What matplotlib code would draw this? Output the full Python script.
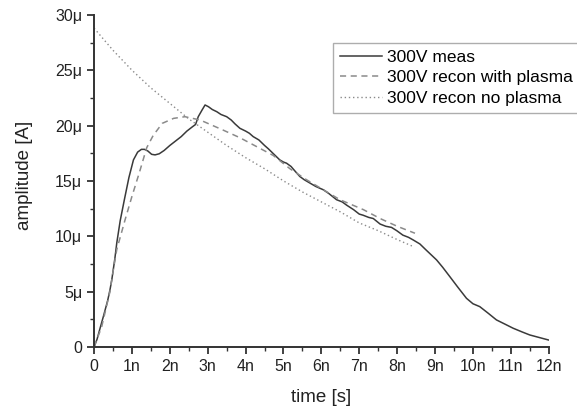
import matplotlib
matplotlib.use("Agg")
import matplotlib.pyplot as plt
from matplotlib.ticker import MultipleLocator

# ── Data (time in ns, current in µA) ───────────────────────────────────────────
meas_t = [0.0, 0.08, 0.16, 0.25, 0.36, 0.42, 0.47, 0.55, 0.6, 0.69, 0.8, 0.92,
          1.04, 1.15, 1.25, 1.33, 1.42, 1.52, 1.61, 1.72, 1.85, 2.0, 2.15,
          2.3, 2.45, 2.6, 2.68, 2.75, 2.85, 2.93, 3.02, 3.12, 3.24, 3.35, 3.5,
          3.62, 3.72, 3.85, 4.0, 4.1, 4.2, 4.35, 4.5, 4.6, 4.75, 4.9, 5.0,
          5.08, 5.2, 5.3, 5.43, 5.55, 5.7, 5.85, 6.05, 6.2, 6.4, 6.55, 6.67,
          6.85, 7.0, 7.1, 7.25, 7.37, 7.55, 7.7, 7.85, 7.99, 8.15, 8.3, 8.43,
          8.6, 8.75, 9.04, 9.2, 9.39, 9.6, 9.83, 10.0, 10.18, 10.4, 10.62,
          10.85, 11.06, 11.3, 11.5, 11.75, 11.99]
meas_i = [0.0, 0.7, 1.7, 2.8, 4.2, 5.15, 6.1, 8.0, 9.4, 11.4, 13.3, 15.3,
          16.9, 17.6, 17.85, 17.85, 17.7, 17.4, 17.35, 17.45, 17.75, 18.2,
          18.6, 19.0, 19.5, 19.9, 20.1, 20.8, 21.4, 21.86, 21.7, 21.45, 21.25,
          21.0, 20.8, 20.5, 20.15, 19.75, 19.5, 19.3, 19.0, 18.7, 18.2, 17.9,
          17.4, 16.9, 16.7, 16.6, 16.3, 15.9, 15.4, 15.1, 14.8, 14.5, 14.2,
          13.85, 13.3, 13.1, 12.8, 12.4, 12.0, 11.9, 11.7, 11.6, 11.1, 10.9,
          10.8, 10.5, 10.1, 9.9, 9.65, 9.3, 8.8, 7.86, 7.2, 6.35, 5.4, 4.39,
          3.9, 3.64, 3.05, 2.44, 2.05, 1.69, 1.35, 1.08, 0.85, 0.63]

plasma_t = [0.0, 0.2, 0.42, 0.51, 0.6, 0.82, 1.0, 1.2, 1.39, 1.56, 1.8, 2.1,
            2.4, 2.8, 3.4, 3.85, 4.29, 4.73, 5.17, 5.61, 6.05, 6.49, 7.11,
            7.55, 8.0, 8.47]
plasma_i = [0.0, 1.8, 5.0, 7.0, 8.8, 11.5, 13.6, 15.8, 18.0, 19.1, 20.2,
            20.65, 20.8, 20.5, 19.6, 18.9, 18.1, 17.3, 16.1, 15.1, 14.2, 13.3,
            12.4, 11.6, 10.9, 10.27]

noplasma_t = [0.0, 0.5, 1.0, 1.5, 2.0, 2.5, 3.0, 3.5, 4.0, 4.5, 5.0, 5.5,
              6.0, 6.5, 7.0, 7.5, 8.0, 8.43]
noplasma_i = [28.8, 26.8, 25.0, 23.4, 22.0, 20.6, 19.4, 18.2, 17.1, 16.1,
              15.0, 14.0, 13.1, 12.2, 11.2, 10.5, 9.7, 9.06]

x_ticks = list(range(0, 13))
x_labels = ['0'] + [f'{n}n' for n in range(1, 13)]
y_ticks = [0, 5, 10, 15, 20, 25, 30]
y_labels = ['0'] + [f'{v}\u03bc' for v in y_ticks[1:]]

labels = ['300V meas', '300V recon with plasma', '300V recon no plasma']

# ── Plot ───────────────────────────────────────────────────────────────────────
plt.rcParams['font.family'] = ['Liberation Sans', 'DejaVu Sans']

AX_CLR = '#333333'
TXT    = '#222222'

fig = plt.figure(figsize=(5.77, 4.13), dpi=100)
ax = fig.add_axes([0.163, 0.160, 0.788, 0.804])

ax.plot(meas_t, meas_i, color='#3a3a3a', linewidth=1.1, label=labels[0])
ax.plot(plasma_t, plasma_i, color='#8a8a8a', linewidth=1.1,
        linestyle=(0, (4, 3)), label=labels[1])
ax.plot(noplasma_t, noplasma_i, color='#8a8a8a', linewidth=1.0,
        linestyle=(0, (1, 2)), label=labels[2])

ax.set_xlim(0, 12)
ax.set_ylim(0, 30)
ax.set_xticks(x_ticks)
ax.set_xticklabels(x_labels)
ax.set_yticks(y_ticks)
ax.set_yticklabels(y_labels)
ax.xaxis.set_minor_locator(MultipleLocator(0.5))
ax.yaxis.set_minor_locator(MultipleLocator(2.5))

for side in ('top', 'right'):
    ax.spines[side].set_visible(False)
for side in ('left', 'bottom'):
    ax.spines[side].set_color(AX_CLR)
    ax.spines[side].set_linewidth(1.4)

ax.tick_params(which='major', direction='out', length=5, width=1.3,
               colors=AX_CLR, labelsize=11.5, labelcolor=TXT)
ax.tick_params(which='minor', direction='out', length=3, width=1.0,
               colors=AX_CLR)

ax.set_xlabel('time [s]', fontsize=13.5, color=TXT)
ax.set_ylabel('amplitude [A]', fontsize=13.5, color=TXT)
ax.xaxis.set_label_coords(0.5, -0.128)
ax.yaxis.set_label_coords(-0.134, 0.517)

leg = ax.legend(loc='upper left', bbox_to_anchor=(333 / 577, 1 - 43 / 413),
                bbox_transform=fig.transFigure, fontsize=12.5, frameon=True,
                fancybox=False, handlelength=2.4, handletextpad=0.3,
                labelspacing=0.3, borderpad=0.4, borderaxespad=0)
leg.get_frame().set_edgecolor('#999999')
leg.get_frame().set_linewidth(1.0)

fig.savefig('out.png', dpi=100)
